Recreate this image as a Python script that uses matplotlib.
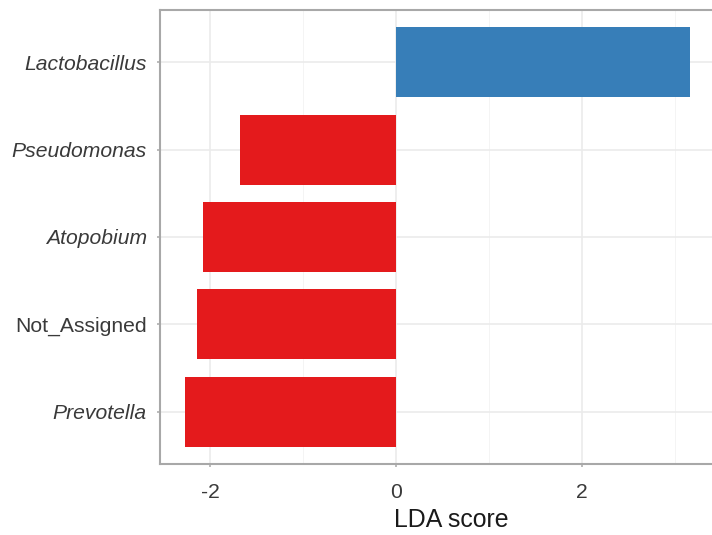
import matplotlib
matplotlib.use("Agg")
import matplotlib.pyplot as plt
from matplotlib.ticker import MultipleLocator

# data (top to bottom)
taxa = ["Lactobacillus", "Pseudomonas", "Atopobium", "Not_Assigned", "Prevotella"]
lda = [3.16, -1.68, -2.08, -2.14, -2.27]
italic = [True, True, True, False, True]
pos_color = "#377EB8"
neg_color = "#E41A1C"

fig = plt.figure(figsize=(7.12, 5.35), dpi=100)
ax = fig.add_axes([160/712, 1-464/535, (715-160)/712, (464-10)/535])

n = len(taxa)
ypos = list(range(n))[::-1]
colors = [pos_color if v > 0 else neg_color for v in lda]
ax.barh(ypos, lda, height=0.8, color=colors, zorder=3)

ax.set_ylim(-0.6, n - 1 + 0.6)
ax.set_xlim(-2.54, 3.43)
ax.xaxis.set_minor_locator(MultipleLocator(1))
ax.set_xticks([-2, 0, 2])
ax.set_xticklabels(["-2", "0", "2"])
ax.set_yticks(ypos)
ax.set_yticklabels(taxa)
for lab, it in zip(ax.get_yticklabels(), italic):
    lab.set_fontstyle("italic" if it else "normal")

ax.grid(True, which="major", color="#EBEBEB", lw=1.2, zorder=0)
ax.grid(True, which="minor", axis="x", color="#F4F4F4", lw=0.7, zorder=0)
for s in ax.spines.values():
    s.set_color("#A8A8A8")
    s.set_linewidth(1.5)

ax.tick_params(axis="both", which="major", length=2.5, width=1.1, color="#A8A8A8",
               labelsize=15.2, labelcolor="#3A3A3A")
ax.tick_params(axis="y", which="major", pad=7)
ax.tick_params(axis="x", which="major", pad=11)
ax.tick_params(axis="x", which="minor", length=0)
for lab in ax.get_xticklabels() + ax.get_yticklabels():
    lab.set_family("Liberation Sans")
ax.set_xlabel("LDA score", fontsize=17.9, family="Liberation Sans", color="#1A1A1A")
ax.xaxis.set_label_coords((451.5-160)/(715-160), -(520-464)/(464-10), transform=ax.transAxes)
ax.xaxis.label.set_va("center")

fig.savefig("out.png", dpi=100)
